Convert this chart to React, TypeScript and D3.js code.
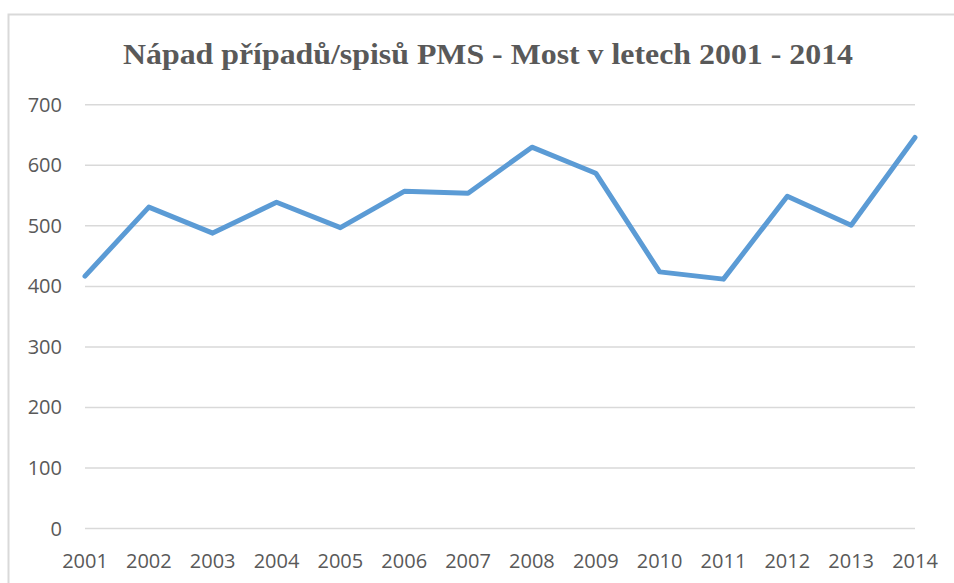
import React from "react";
import * as d3 from "d3";

const years = ["2001","2002","2003","2004","2005","2006","2007","2008","2009","2010","2011","2012","2013","2014"];
const values = [417, 531, 488, 539, 497, 557, 554, 630, 587, 424, 412, 549, 501, 646];
const yTicks = [0, 100, 200, 300, 400, 500, 600, 700];
const title = "Nápad případů/spisů PMS - Most v letech 2001 - 2014";

export default function App() {
  const W = 954, H = 583;
  const x = d3.scalePoint<string>().domain(years).range([85, 915]);
  const y = d3.scaleLinear().domain([0, 700]).range([528.5, 104.8]);
  const line = d3.line<number>().x((_, i) => x(years[i])!).y(d => y(d));
  const textColor = "#595959";
  return (
    <svg width={W} height={H} style={{ position: "absolute", left: 0, top: 0, background: "#fff" }}>
      <rect x={8.5} y={14.5} width={960} height={600} fill="#fff" stroke="#d9d9d9" strokeWidth={2} />
      <text x={488} y={63.5} textAnchor="middle" textLength={730} lengthAdjust="spacingAndGlyphs" fontFamily="'Liberation Serif', 'Times New Roman', serif" fontWeight="bold" fontSize={30} fill={textColor}>{title}</text>
      {yTicks.map(t => (
        <g key={t}>
          <line x1={85} x2={915} y1={y(t)} y2={y(t)} stroke="#d9d9d9" strokeWidth={1.5} />
          <text x={62} y={y(t)} dy="0.35em" textAnchor="end" fontFamily="'Open Sans', sans-serif" fontSize={20} fill={textColor}>{t}</text>
        </g>
      ))}
      {years.map(yr => (
        <text key={yr} x={x(yr)} y={567.5} textAnchor="middle" fontFamily="'Open Sans', sans-serif" fontSize={20} fill={textColor}>{yr}</text>
      ))}
      <path d={line(values) || ""} fill="none" stroke="#5b9bd5" strokeWidth={5} strokeLinejoin="round" strokeLinecap="round" />
    </svg>
  );
}
